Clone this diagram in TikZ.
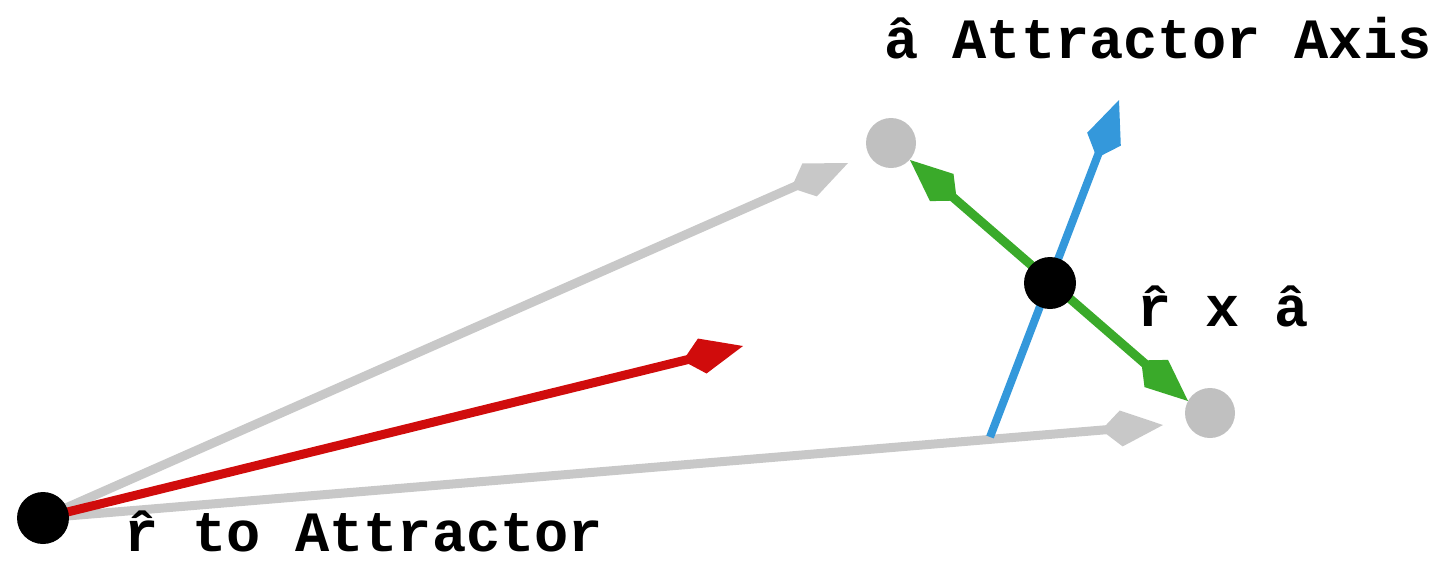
\documentclass[tikz,border=0pt]{standalone}
\usepackage{fontspec}
\setmonofont{Liberation Mono}
\usetikzlibrary{arrows.meta,backgrounds}
\definecolor{lgray}{RGB}{200,200,200}
\definecolor{dgray}{RGB}{192,192,192}
\definecolor{vred}{RGB}{208,12,12}
\definecolor{vgreen}{RGB}{58,170,42}
\definecolor{vblue}{RGB}{52,152,219}
\tikzset{
  dot/.style={circle,fill=black,minimum size=52pt,inner sep=0pt},
  gdot/.style={circle,fill=dgray,minimum size=50pt,inner sep=0pt},
  vec/.style={line width=9pt,-{Kite[length=62pt,width=36pt,inset=20pt]}},
  dvec/.style={line width=9pt,{Kite[length=62pt,width=36pt,inset=20pt]}-{Kite[length=62pt,width=36pt,inset=20pt]}},
  lbl/.style={anchor=base west,inner sep=0pt,text depth=0pt,font=\ttfamily\bfseries\fontsize{57}{60}\selectfont}
}
\begin{document}
\begin{tikzpicture}[x=1pt,y=-1pt]
\useasboundingbox (0,0) rectangle (1437,560);
\node[dot] (o) at (43,518) {};
\node[gdot] (g1) at (891,143) {};
\node[gdot] (g2) at (1210,413) {};
\node[dot] (m) at (1050,283) {};
\coordinate (t1) at (848,163);
\coordinate (t2) at (1163,425);
\coordinate (tr) at (743,346);
\coordinate (bb) at (990,437);
\coordinate (bt) at (1119,100);
\coordinate (ga) at (910,160);
\coordinate (gb) at (1188,401);
\begin{scope}[on background layer]
\draw[vec,draw=lgray,fill=lgray] (o.center) -- (t1);
\draw[vec,draw=lgray,fill=lgray] (o.center) -- (t2);
\draw[vec,draw=vred,fill=vred] (o.center) -- (tr);
\draw[vec,line width=8pt,draw=vblue,fill=vblue] (bb) -- (bt);
\draw[dvec,draw=vgreen,fill=vgreen] (ga) -- (gb);
\end{scope}
\node[lbl] (l1) at (124,551) {r̂ to Attractor};
\node[lbl] (l2) at (884,58) {â Attractor Axis};
\node[lbl] (l3) at (1137,326) {r̂ x â};
\end{tikzpicture}
\end{document}
